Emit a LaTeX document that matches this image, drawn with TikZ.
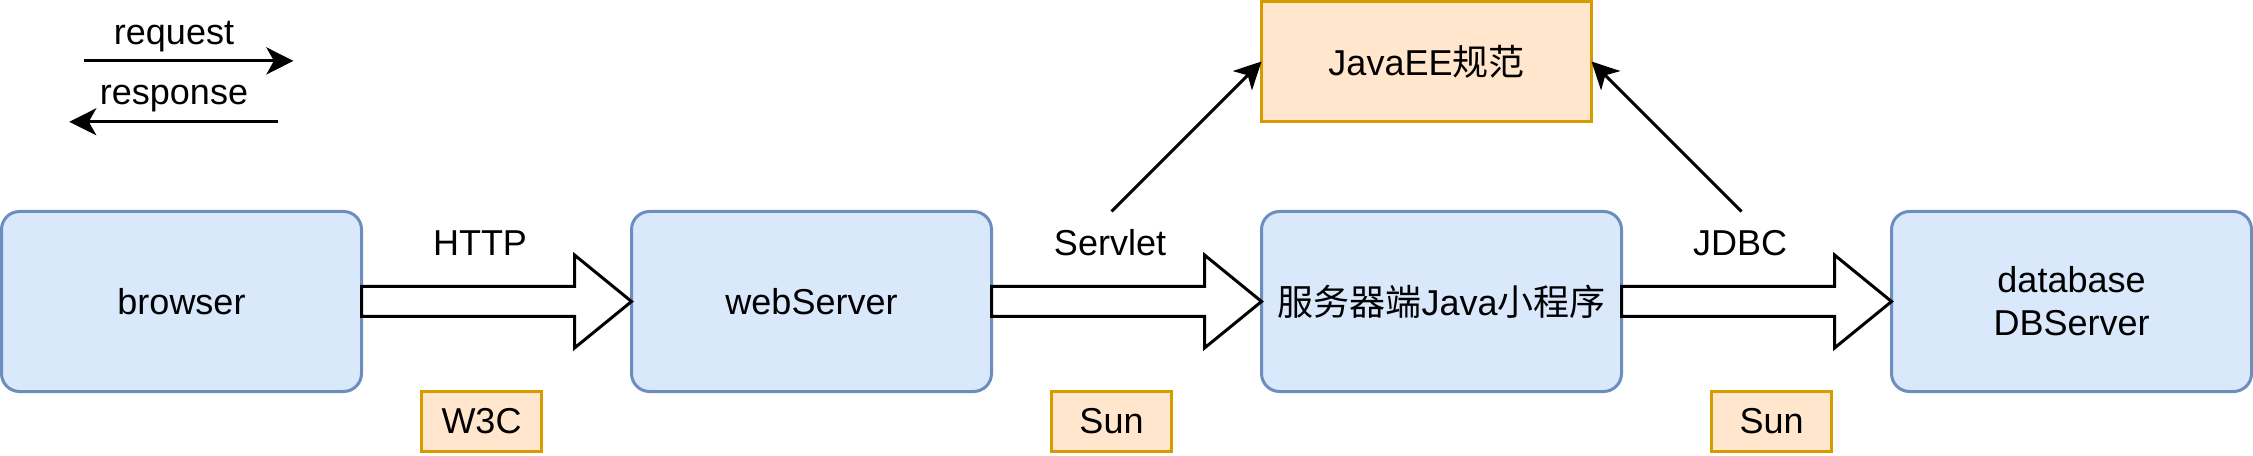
\documentclass[tikz,border=0pt]{standalone}
\usepackage{fontspec}
\setmainfont{Liberation Sans}
\newfontfamily\cjk{Noto Sans CJK SC}
\usetikzlibrary{arrows.meta,calc}
\definecolor{bluefill}{HTML}{DAE8FC}
\definecolor{bluestroke}{HTML}{6C8EBF}
\definecolor{orangefill}{HTML}{FFE6CC}
\definecolor{orangestroke}{HTML}{D79B00}
\begin{document}
\begin{tikzpicture}[x=1pt,y=-1pt,
  font=\fontsize{12}{14.4}\selectfont,
  bluebox/.style={draw=bluestroke, fill=bluefill, line width=1pt, rounded corners=6pt,
    minimum width=120pt, minimum height=60pt, inner sep=0pt, outer sep=0pt, align=center},
  orangebox/.style={draw=orangestroke, fill=orangefill, line width=1pt,
    minimum width=40pt, minimum height=20pt, inner sep=0pt, outer sep=0pt},
  label/.style={anchor=base, inner sep=0pt},
  thinarrow/.style={line width=1pt, -{Stealth[length=9pt,width=9pt,inset=2.5pt]}},
  flex/.style={draw=black, fill=white, line width=1pt, line join=miter},
]
\useasboundingbox (0,0) rectangle (751,152);

% main boxes
\node[bluebox] (browser) at (60.5,100.5) {browser};
\node[bluebox] (web) at (270.5,100.5) {webServer};
\node[bluebox] (app) at (480.5,100.5) {{\cjk 服务器端}Java{\cjk 小程序}};
\node[bluebox] (db) at (690.5,100.5) {database\\DBServer};

\node[orangebox, minimum width=110pt, minimum height=40pt] (javaee) at (475.5,20.5) {JavaEE{\cjk 规范}};

\node[orangebox] (w3c) at (160.5,140.5) {W3C};
\node[orangebox] (sun1) at (370.5,140.5) {Sun};
\node[orangebox] (sun2) at (590.5,140.5) {Sun};

% labels
\node[label] (http) at (160,85) {HTTP};
\node[label] (servlet) at (370,85) {Servlet};
\node[label] (jdbc) at (580,85) {JDBC};

% legend
\node[label] (req) at (58,14.8) {request};
\node[label] (resp) at (58,34.7) {response};
\coordinate (reqa) at (28,20.3);
\coordinate (reqb) at (97.8,20.3);
\coordinate (respa) at (92.8,40.6);
\coordinate (respb) at (23.1,40.6);
\draw[thinarrow] (reqa) -- (reqb);
\draw[thinarrow] (respa) -- (respb);

% flex arrows
\foreach \a/\b in {browser/web, web/app, app/db}{
  \draw[flex] ($(\a.east)+(0,-5)$) -- ($(\b.west)+(-19,-5)$) -- ($(\b.west)+(-19,-15.5)$)
    -- (\b.west) -- ($(\b.west)+(-19,15.5)$) -- ($(\b.west)+(-19,5)$)
    -- ($(\a.east)+(0,5)$) -- cycle;
}

% diagonal arrows
\coordinate (sa) at (370.5,70.5);
\coordinate (ja) at (580.5,70.5);
\draw[thinarrow] (sa) -- (javaee.west);
\draw[thinarrow] (ja) -- (javaee.east);
\end{tikzpicture}
\end{document}
